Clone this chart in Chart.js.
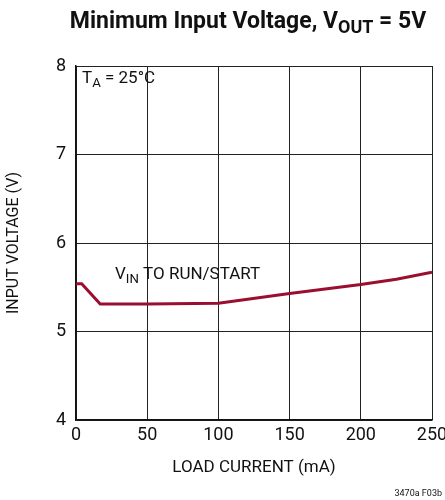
<!DOCTYPE html>
<html><head><meta charset="utf-8">
<script src="https://cdn.jsdelivr.net/npm/chart.js@4.4.1/dist/chart.umd.min.js"></script>
<style>html,body{margin:0;padding:0;background:#fff;}#wrap{width:445px;height:500px;position:relative;}</style>
</head><body><div id="wrap"><canvas id="c" width="445" height="500"></canvas></div>
<script>
const loadCurrent = [0, 4, 17, 50, 100, 150, 200, 225, 250];
const inputVoltage = [5.54, 5.54, 5.31, 5.31, 5.32, 5.43, 5.53, 5.59, 5.67];
const xTicks = [0, 50, 100, 150, 200, 250];
const yTicks = [4, 5, 6, 7, 8];
const FONT = '"Liberation Sans Narrow", "Roboto", "DejaVu Sans Condensed", sans-serif';

function drawSub(ctx, x, y, parts, size, weight) {
  let cx = x;
  for (const [t, sub] of parts) {
    const s = sub ? size * 0.78 : size;
    ctx.font = `${weight} ${s}px ${FONT}`;
    ctx.fillText(t, cx, sub ? y + size * 0.28 : y);
    cx += ctx.measureText(t).width;
  }
  return cx - x;
}
function measureSub(ctx, parts, size, weight) {
  let w = 0;
  for (const [t, sub] of parts) {
    ctx.font = `${weight} ${sub ? size * 0.78 : size}px ${FONT}`;
    w += ctx.measureText(t).width;
  }
  return w;
}

const textPlugin = {
  id: 'texts',
  afterDraw(chart) {
    const ctx = chart.ctx;
    ctx.save();
    ctx.fillStyle = '#111';
    ctx.textBaseline = 'middle';
    ctx.textAlign = 'left';
    const tParts = [['Minimum Input Voltage, V', false], ['OUT', true], [' = 5V', false]];
    const tw = measureSub(ctx, tParts, 23, 'bold');
    drawSub(ctx, 248 - tw / 2, 22, tParts, 23, 'bold');
    drawSub(ctx, 82, 79, [['T', false], ['A', true], [' = 25°C', false]], 17, 'normal');
    drawSub(ctx, 115, 275, [['V', false], ['IN', true], [' TO RUN/START', false]], 17, 'normal');
    ctx.font = `normal 9px ${FONT}`;
    ctx.textAlign = 'right';
    ctx.fillText('3470a F03b', 442, 494);
    ctx.restore();
  }
};

new Chart(document.getElementById('c'), {
  type: 'line',
  data: {
    datasets: [{
      data: loadCurrent.map((x, i) => ({ x, y: inputVoltage[i] })),
      borderColor: '#9a0f2f',
      borderWidth: 3,
      pointRadius: 0,
      tension: 0,
      fill: false
    }]
  },
  options: {
    responsive: false,
    animation: false,
    devicePixelRatio: 1,
    layout: { padding: { top: 66, right: 13, left: 0, bottom: 18 } },
    plugins: { legend: { display: false }, tooltip: { enabled: false }, title: { display: false } },
    scales: {
      x: {
        type: 'linear', min: 0, max: 250,
        afterBuildTicks: s => { s.ticks = xTicks.map(v => ({ value: v })); },
        afterFit: s => { s.height = 62; s.paddingLeft = 0; s.paddingRight = 0; },
        grid: { color: '#222', lineWidth: 1, drawTicks: false },
        border: { color: '#111', width: 1.5 },
        ticks: { color: '#111', font: { family: FONT, size: 18 }, padding: 5, maxRotation: 0 },
        title: { display: true, text: 'LOAD CURRENT (mA)', color: '#111', font: { family: FONT, size: 17 }, padding: { top: 4 } }
      },
      y: {
        min: 4, max: 8,
        afterBuildTicks: s => { s.ticks = yTicks.map(v => ({ value: v })); },
        afterFit: s => { s.width = 76; s.paddingTop = 0; s.paddingBottom = 0; },
        grid: { color: '#222', lineWidth: 1, drawTicks: false },
        border: { color: '#111', width: 1.5 },
        ticks: { color: '#111', font: { family: FONT, size: 18 }, padding: 10 },
        title: { display: true, text: 'INPUT VOLTAGE (V)', color: '#111', font: { family: FONT, size: 16 }, padding: { bottom: 10 } }
      }
    }
  },
  plugins: [textPlugin]
});
</script></body></html>
